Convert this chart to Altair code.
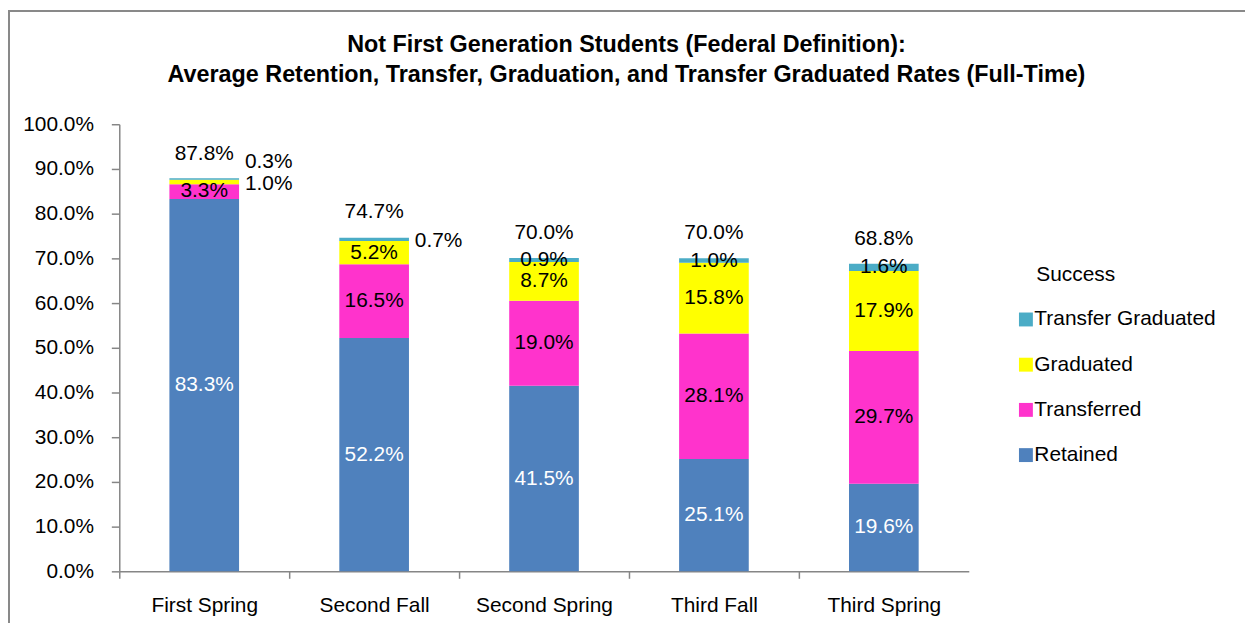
import altair as alt
import pandas as pd

categories = ["First Spring", "Second Fall", "Second Spring", "Third Fall", "Third Spring"]
series = ["Retained", "Transferred", "Graduated", "Transfer Graduated"]
retained = [83.3, 52.2, 41.5, 25.1, 19.6]
transferred = [3.3, 16.5, 19.0, 28.1, 29.7]
graduated = [1.0, 5.2, 8.7, 15.8, 17.9]
transfer_graduated = [0.3, 0.7, 0.9, 1.0, 1.6]
totals = [87.8, 74.7, 70.0, 70.0, 68.8]
colors = {"Retained": "#4F81BD", "Transferred": "#FF33CC",
          "Graduated": "#FFFF00", "Transfer Graduated": "#4BACC6"}

FONT = "Liberation Sans"

rows = []
for s_i, (s, vals) in enumerate(zip(series, [retained, transferred, graduated, transfer_graduated])):
    for c, v in zip(categories, vals):
        rows.append({"cat": c, "series": s, "order": s_i, "value": v / 100.0})
df = pd.DataFrame(rows)
tot_df = pd.DataFrame({"cat": categories, "total": [t / 100.0 for t in totals]})

legend_order = ["Transfer Graduated", "Graduated", "Transferred", "Retained"]

x_enc = alt.X("cat:N", sort=categories, title=None,
              scale=alt.Scale(paddingInner=0.59, paddingOuter=0.295),
              axis=alt.Axis(bandPosition=0, tickOffset=-50.4, labelOffset=50.4,
                            labelAngle=0,
                            tickSize=7, labelPadding=16, labelFontSize=21,
                            labelFont=FONT, labelColor="#000000",
                            domainColor="#868686", tickColor="#868686",
                            domainWidth=1.5, tickWidth=1.5))
y_scale = alt.Scale(domain=[0, 1])

base = alt.Chart(df).transform_stack(
    stack="value", groupby=["cat"], sort=[alt.SortField("order", "ascending")],
    as_=["y0", "y1"]
).transform_calculate(mid="(datum.y0 + datum.y1) / 2")

bars = base.mark_bar().encode(
    x=x_enc,
    y=alt.Y("y0:Q", scale=y_scale, title=None,
            axis=alt.Axis(format=".1%", values=[i / 10 for i in range(11)],
                          grid=False, tickSize=8, labelPadding=18,
                          labelFontSize=21, labelFont=FONT, labelColor="#000000",
                          domainColor="#868686", tickColor="#868686",
                          domainWidth=1.5, tickWidth=1.5)),
    y2="y1:Q",
    color=alt.Color("series:N",
                    scale=alt.Scale(domain=legend_order,
                                    range=[colors[s] for s in legend_order]),
                    legend=alt.Legend(title="Success", orient="none",
                                      legendX=923, legendY=141,
                                      titleFontSize=21, titleFontWeight="normal",
                                      titleFont=FONT, titleColor="#000000",
                                      labelFontSize=21, labelFont=FONT,
                                      labelColor="#000000", labelLimit=300,
                                      symbolType="square", symbolSize=196,
                                      symbolStrokeWidth=0,
                                      symbolOffset=-21, labelOffset={"expr": "-2"},
                                      rowPadding=23.5, titlePadding=24,
                                      padding=0)),
    order=alt.Order("order:Q", sort="ascending"),
)

hidden = "(datum.cat == 'First Spring' && (datum.series == 'Graduated' || datum.series == 'Transfer Graduated')) || (datum.cat == 'Second Fall' && datum.series == 'Transfer Graduated')"

inside = base.transform_filter("!(" + hidden + ")").mark_text(
    font=FONT, fontSize=21, baseline="middle"
).encode(
    x=alt.X("cat:N", sort=categories),
    y=alt.Y("mid:Q", scale=y_scale),
    text=alt.Text("value:Q", format=".1%"),
    color=alt.condition("datum.series == 'Retained'", alt.value("#FFFFFF"), alt.value("#000000")),
)

outside_a = base.transform_filter(
    "(datum.cat == 'First Spring' && datum.series == 'Graduated') || (datum.cat == 'Second Fall' && datum.series == 'Transfer Graduated')"
).mark_text(font=FONT, fontSize=21, baseline="middle", align="left", dx=41, dy=2, color="#000000").encode(
    x=alt.X("cat:N", sort=categories),
    y=alt.Y("mid:Q", scale=y_scale),
    text=alt.Text("value:Q", format=".1%"),
)

outside_b = base.transform_filter(
    "datum.cat == 'First Spring' && datum.series == 'Transfer Graduated'"
).mark_text(font=FONT, fontSize=21, baseline="middle", align="left", dx=41, dy=-17, color="#000000").encode(
    x=alt.X("cat:N", sort=categories),
    y=alt.Y("mid:Q", scale=y_scale),
    text=alt.Text("value:Q", format=".1%"),
)

total_text = alt.Chart(tot_df).mark_text(
    font=FONT, fontSize=21, baseline="middle", dy=-25, color="#000000"
).encode(
    x=alt.X("cat:N", sort=categories),
    y=alt.Y("total:Q", scale=y_scale),
    text=alt.Text("total:Q", format=".1%"),
)

frame = alt.Chart(tot_df).mark_rect(fill=None, stroke="#898989", strokeWidth=2).encode(
    x=alt.value(-111), x2=alt.value(1200), y=alt.value(-114), y2=alt.value(700)
)

chart = alt.layer(frame, bars, inside, outside_a, outside_b, total_text).properties(
    width=855, height=450,
    autosize=alt.AutoSizeParams(type="none"),
    padding={"left": 112, "top": 115, "right": 278, "bottom": 50},
    title=alt.TitleParams(
        text=["Not First Generation Students (Federal Definition):",
              "Average Retention, Transfer, Graduation, and Transfer Graduated Rates (Full-Time)"],
        font=FONT, fontSize=23.5, fontWeight="bold", color="#000000",
        anchor="middle", frame="group", dx=83, lineHeight=30, offset=-77),
).configure_view(stroke=None)

chart.save("out.html", embed_options={"renderer": "svg", "actions": False})
